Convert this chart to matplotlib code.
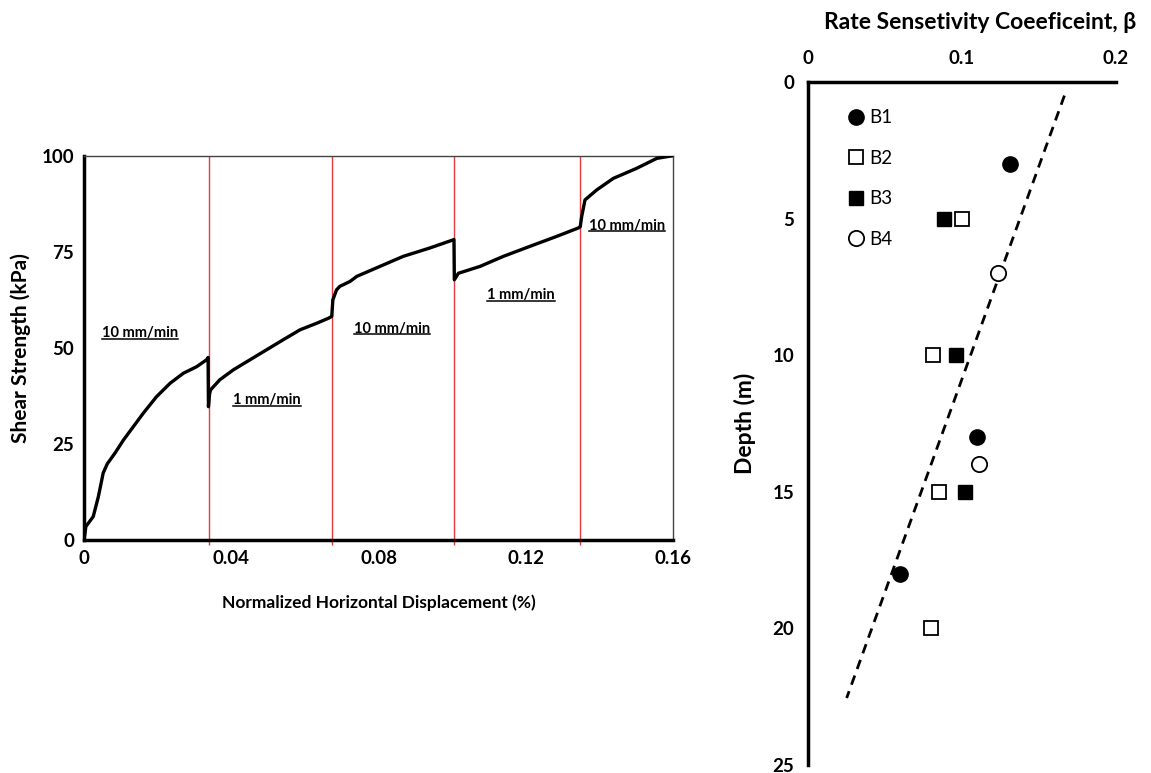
import matplotlib.pyplot as plt
from matplotlib.lines import Line2D

plt.rcParams['font.family'] = ['Lato', 'DejaVu Sans']
plt.rcParams['font.weight'] = 'bold'
plt.rcParams['axes.labelweight'] = 'bold'

# left panel: shear strength vs normalized displacement
disp = [0, 0.0005, 0.0025, 0.0039, 0.0052, 0.0063, 0.0084, 0.0107, 0.0134, 0.0161,
        0.0197, 0.0234, 0.0270, 0.0306, 0.0333, 0.0337, 0.0338, 0.0341, 0.0344, 0.0369,
        0.0406, 0.0451, 0.0496, 0.0541, 0.0587, 0.0632, 0.0664, 0.0673, 0.0676, 0.0686,
        0.0695, 0.0723, 0.0741, 0.0804, 0.0867, 0.0940, 0.1003, 0.1005, 0.1006, 0.1017,
        0.1076, 0.1139, 0.1211, 0.1284, 0.1343, 0.1348, 0.1352, 0.1361, 0.1393, 0.1438,
        0.1501, 0.1556, 0.1600]
shear = [0, 3.5, 6.1, 11.3, 17.4, 19.8, 22.6, 26.0, 29.5, 33.0,
         37.3, 40.8, 43.4, 45.1, 46.9, 47.5, 34.7, 38.0, 39.1, 41.7,
         44.3, 46.9, 49.5, 52.1, 54.7, 56.4, 57.7, 58.2, 62.5, 65.1,
         66.0, 67.3, 68.6, 71.2, 73.8, 76.0, 78.1, 78.2, 67.7, 69.4,
         71.2, 73.8, 76.4, 79.0, 81.2, 81.5, 84.2, 88.5, 91.1, 94.1,
         96.7, 99.3, 100]
rate_change_x = [0.0339, 0.0673, 0.1005, 0.1347]
rate_labels = ["10 mm/min", "1 mm/min", "10 mm/min", "1 mm/min", "10 mm/min"]
rate_label_x = [0.0152, 0.0497, 0.0837, 0.1187, 0.1475]
rate_label_y = [53.8, 36.4, 54.9, 63.7, 81.7]

# right panel: rate sensitivity coefficient vs depth
b1_beta = [0.131, 0.110, 0.060]
b1_depth = [3, 13, 18]
b2_beta = [0.100, 0.081, 0.085, 0.080]
b2_depth = [5, 10, 15, 20]
b3_beta = [0.0885, 0.096, 0.102]
b3_depth = [5, 10, 15]
b4_beta = [0.1236, 0.111]
b4_depth = [7, 14]
trend_beta = [0.1665, 0.0251]
trend_depth = [0.5, 22.55]

fig = plt.figure(figsize=(11.51, 7.73), dpi=100)

ax = fig.add_axes([0.0730, 0.3014, 0.5117, 0.4972])
ax.vlines(rate_change_x, -1.2, 100, colors='#e8383d', linewidth=1.0, clip_on=False, zorder=2)
ax.plot(disp, shear, color='black', linewidth=2.4, zorder=3)
ax.set_xlim(0, 0.16)
ax.set_ylim(0, 100)
ax.set_xticks([0, 0.04, 0.08, 0.12, 0.16])
ax.set_xticklabels(['0', '0.04', '0.08', '0.12', '0.16'])
ax.set_yticks([0, 25, 50, 75, 100])
ax.tick_params(length=0, labelsize=13.5, pad=7)
ax.set_xlabel('Normalized Horizontal Displacement (%)', fontsize=12.5, labelpad=20)
ax.set_ylabel('Shear Strength (kPa)', fontsize=15, labelpad=8)
for s in ['left', 'bottom']:
    ax.spines[s].set_linewidth(2.5)
for s in ['top', 'right']:
    ax.spines[s].set_linewidth(1.0)
    ax.spines[s].set_color('#444444')

texts = []
for lab, x, y in zip(rate_labels, rate_label_x, rate_label_y):
    texts.append(ax.text(x, y, lab, fontsize=10.5, fontweight='bold', ha='center', va='center'))

ax2 = fig.add_axes([0.7020, 0.0104, 0.2676, 0.8836])
ax2.plot(trend_beta, trend_depth, color='black', linewidth=2.0, dashes=(3.5, 2.5))
ax2.plot(b1_beta, b1_depth, 'o', color='black', markersize=11, label='B1')
ax2.plot(b2_beta, b2_depth, 's', mfc='white', mec='black', mew=1.3, markersize=10, label='B2')
ax2.plot(b3_beta, b3_depth, 's', color='black', markersize=10, label='B3')
ax2.plot(b4_beta, b4_depth, 'o', mfc='white', mec='black', mew=1.3, markersize=11, label='B4')
ax2.set_xlim(0, 0.2)
ax2.set_ylim(25, 0)
ax2.xaxis.tick_top()
ax2.xaxis.set_label_position('top')
ax2.set_xticks([0, 0.1, 0.2])
ax2.set_xticklabels(['0', '0.1', '0.2'])
ax2.set_yticks([0, 5, 10, 15, 20, 25])
ax2.tick_params(length=0, labelsize=13.5)
ax2.tick_params(axis='x', pad=11)
ax2.tick_params(axis='y', pad=10)
ax2.set_xlabel('Rate Sensetivity Coeeficeint, β', fontsize=16.5)
ax2.xaxis.set_label_coords(0.56, 1.078)
ax2.set_ylabel('Depth (m)', fontsize=16.5, labelpad=12)
ax2.spines['right'].set_visible(False)
ax2.spines['bottom'].set_visible(False)
ax2.spines['left'].set_linewidth(2.5)
ax2.spines['top'].set_linewidth(2.5)
ax2.legend(loc='upper left', bbox_to_anchor=(0.07, 0.982), frameon=False,
           prop={'size': 13.5, 'weight': 'normal'},
           handletextpad=0.1, labelspacing=1.25, handlelength=1.2, borderpad=0.3)

# underline the rate labels
fig.canvas.draw()
r = fig.canvas.get_renderer()
for t in texts:
    bb = t.get_window_extent(r).transformed(fig.transFigure.inverted())
    fig.add_artist(Line2D([bb.x0, bb.x1], [bb.y0 + 0.002, bb.y0 + 0.002],
                          color='black', linewidth=1.1, transform=fig.transFigure))

fig.savefig('out.png', dpi=100)
